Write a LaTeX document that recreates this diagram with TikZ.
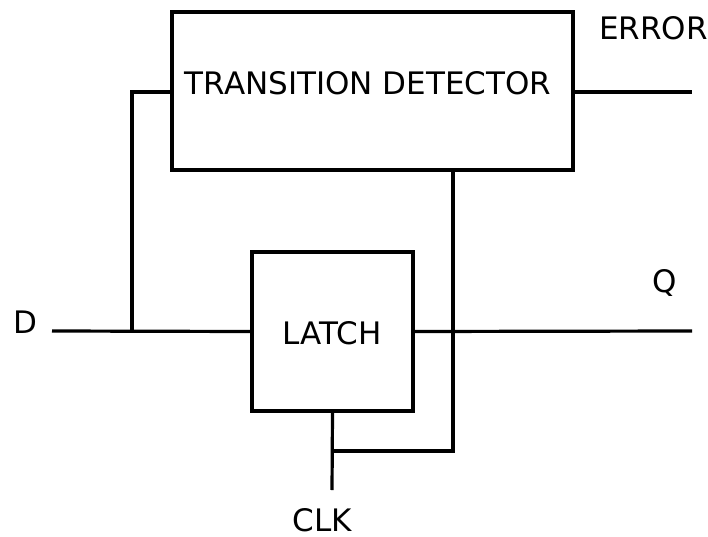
\documentclass[tikz,border=0pt]{standalone}
\usepackage{fontspec}
\setmainfont{DejaVu Sans}
\begin{document}
\begin{tikzpicture}[x=1pt,y=-1pt,
  wire/.style={line width=3.2pt},
  blk/.style={draw,line width=3.2pt,inner sep=0pt},
  lbl/.style={font=\fontsize{31}{34}\selectfont,inner sep=0pt}]
\useasboundingbox (0,0) rectangle (708,537);
\node[blk,minimum width=401pt,minimum height=158pt] (td) at (372.5,91) {};
\node[lbl] (tdt) at (368,83) {TRANSITION DETECTOR};
\node[blk,minimum width=161pt,minimum height=159pt] (latch) at (332.5,331.5) {};
\node[lbl] at (332,333) {LATCH};
\coordinate (din) at (52,331);
\coordinate (br) at (132,331);
\coordinate (qout) at (692,331);
\coordinate (eout) at (692,92);
\coordinate (clkend) at (332,490);
\coordinate (j) at (332,451);
\node[lbl] (dl) at (25,322) {D};
\node[lbl] (ql) at (665,283) {Q};
\node[lbl,anchor=west] (el) at (599,28) {ERROR};
\node[lbl,anchor=base] (cl) at (322,531) {CLK};
\draw[wire] (din) -- (latch.west);
\draw[wire] (br) -- (132,92) -- (td.west |- 0,92);
\draw[wire] (latch.east) -- (qout);
\draw[wire] (td.east |- 0,92) -- (eout);
\draw[wire] (latch.south) -- (clkend);
\draw[wire] (453,170) -- (453,451) -- (j);
\end{tikzpicture}
\end{document}
